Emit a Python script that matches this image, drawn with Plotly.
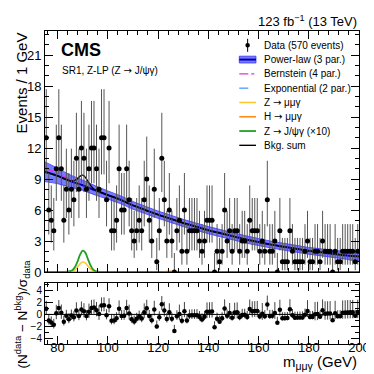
import plotly.graph_objects as go

# ---------------- data ----------------
BIN_LOW, BIN_WIDTH = 75.0, 1.0
DATA = [13, 6, 5, 4, 10, 13, 10, 5, 8, 6,
        8, 7, 11, 8, 12, 11, 8, 10, 12, 12,
        10, 8, 13, 13, 7, 12, 4, 4, 5, 10,
        6, 6, 10, 7, 4, 3, 4, 5, 4, 7,
        9, 5, 3, 8, 1, 4, 11, 7, 3, 6,
        3, 0, 4, 5, 2, 6, 2, 4, 4, 4,
        4, 3, 2, 3, 5, 5, 5, 0, 2, 1,
        2, 6, 3, 4, 2, 4, 4, 2, 3, 3,
        2, 5, 4, 4, 4, 2, 3, 2, 7, 2,
        2, 3, 0, 4, 1, 1, 1, 4, 2, 1,
        1, 1, 1, 2, 3, 1, 1, 2, 2, 1,
        3, 2, 2, 2, 0, 2, 1, 1, 2, 2,
        2, 2, 2, 1, 2]

PULL = [0.94, -1.0, -1.33, -1.72, 0.21, 1.05, 0.27, -1.2, -0.24, -0.8,
        -0.19, -0.47, 0.66, -0.25, 0.81, 0.51, -0.28, 0.42, 1.07, 1.14,
        0.69, 0.08, 1.49, 1.52, -0.13, 1.34, -1.05, -1.02, -0.63, 0.95,
        -0.27, -0.23, 1.05, 0.15, -0.79, -1.17, -0.73, -0.36, -0.68, 0.37,
        1.03, -0.26, -0.95, 0.83, -2.0, -0.48, 1.7, 0.64, -0.78, 0.34,
        -0.72, -2.73, -0.3, 0.06, -1.06, 0.54, -1.0, -0.18, -0.16, -0.14,
        -0.12, -0.45, -0.84, -0.4, 0.42, 0.45, 0.48, -2.12, -0.7, -1.21,
        -0.65, 0.98, -0.21, 0.24, -0.56, 0.3, 0.34, -0.49, -0.08, -0.06,
        -0.42, 0.9, 0.52, 0.55, 0.58, -0.33, 0.1, -0.3, 1.66, -0.26,
        -0.24, 0.25, -1.39, 0.78, -0.64, -0.62, -0.6, 0.86, -0.12, -0.55,
        -0.53, -0.52, -0.5, -0.04, 0.57, -0.45, -0.43, 0.02, 0.05, -0.4,
        0.69, 0.12, 0.14, 0.16, -0.96, 0.21, -0.3, -0.29, 0.28, 0.3,
        0.33, 0.34, 0.36, -0.23, 0.39]

# Poisson (Garwood 68%) interval table
ERR_LO = {0: 0.0, 1: 0.827, 2: 1.291, 3: 1.633, 4: 1.914, 5: 2.159, 6: 2.379,
          7: 2.582, 8: 2.770, 9: 2.945, 10: 3.108, 11: 3.265, 12: 3.413, 13: 3.555}
ERR_HI = {0: 1.841, 1: 2.300, 2: 2.638, 3: 2.918, 4: 3.163, 5: 3.382, 6: 3.583,
          7: 3.770, 8: 3.944, 9: 4.110, 10: 4.266, 11: 4.416, 12: 4.559, 13: 4.697}

CURVE_X = [75, 80, 85, 90, 95, 100, 105, 110, 115, 120, 125, 130, 135,
           140, 145, 150, 155, 160, 165, 170, 175, 180, 185, 190, 195, 200]
POWERLAW = [9.7, 9.3, 8.8, 8.4, 7.9, 7.45, 7.0, 6.45, 6.0, 5.55, 5.15, 4.75, 4.4,
            4.05, 3.75, 3.45, 3.15, 2.9, 2.65, 2.45, 2.25, 2.05, 1.9, 1.75, 1.6, 1.5]
BAND_HI = [10.65, 10.05, 9.4, 8.9, 8.35, 7.85, 7.38, 6.82, 6.36, 5.9, 5.5, 5.1, 4.75,
           4.4, 4.1, 3.8, 3.5, 3.24, 2.98, 2.78, 2.58, 2.38, 2.24, 2.1, 1.97, 1.89]
BAND_LO = [8.75, 8.55, 8.2, 7.9, 7.45, 7.05, 6.62, 6.08, 5.64, 5.2, 4.8, 4.4, 4.05,
           3.7, 3.4, 3.1, 2.8, 2.56, 2.32, 2.12, 1.92, 1.72, 1.56, 1.4, 1.23, 1.11]
BERNSTEIN = [10.1, 9.55, 8.95, 8.45, 7.95, 7.45, 6.98, 6.45, 6.0, 5.55, 5.15, 4.75, 4.4,
             4.05, 3.75, 3.45, 3.15, 2.9, 2.65, 2.45, 2.25, 2.07, 1.92, 1.78, 1.65, 1.55]
EXPONENTIAL = [9.5, 9.15, 8.75, 8.35, 7.9, 7.45, 7.0, 6.5, 6.05, 5.6, 5.2, 4.8, 4.42,
               4.07, 3.75, 3.45, 3.15, 2.9, 2.65, 2.43, 2.22, 2.03, 1.87, 1.72, 1.58, 1.46]

BKGSUM_X = [75, 80, 83, 84, 85, 86, 87, 88, 89, 90, 91, 92, 93, 94, 95, 96, 97, 98,
            100, 105, 110, 115, 120, 125, 130, 135, 140, 145, 150, 155, 160, 165,
            170, 175, 180, 185, 190, 195, 200]
BKGSUM = [9.7, 9.3, 9.0, 8.92, 8.84, 8.81, 8.88, 9.05, 9.28, 9.37, 9.19, 8.81, 8.43,
          8.13, 7.94, 7.83, 7.72, 7.63,
          7.45, 7.0, 6.45, 6.0, 5.55, 5.15, 4.75, 4.4, 4.05, 3.75, 3.45, 3.15, 2.9, 2.65,
          2.45, 2.25, 2.05, 1.9, 1.75, 1.6, 1.5]

SIG_X = [75, 83, 84, 85, 86, 87, 88, 89, 90, 91, 92, 93, 94, 95, 96, 97, 98, 100, 200]
ZJPSI_X10 = [0, 0.01, 0.03, 0.08, 0.19, 0.5, 1.05, 1.7, 2.06, 1.9, 1.3, 0.7, 0.28,
             0.09, 0.03, 0.01, 0, 0, 0]
ZMMG = [0, 0.005, 0.015, 0.04, 0.09, 0.24, 0.49, 0.8, 0.97, 0.89, 0.61, 0.33, 0.13,
        0.04, 0.015, 0.005, 0, 0, 0]
HIGGS_X = [75, 120, 122, 123, 124, 125, 126, 127, 128, 130, 200]
HMMG = [0, 0, 0.01, 0.03, 0.05, 0.06, 0.05, 0.03, 0.01, 0, 0]

ARROW = "<span style=\"font-family:'DejaVu Sans'\">→</span>"
LEGEND_LABELS = ["Data (570 events)", "Power-law (3 par.)", "Bernstein (4 par.)",
                 "Exponential (2 par.)", f"Z {ARROW} μμγ", f"H {ARROW} μμγ",
                 f"Z {ARROW} J/ψγ (×10)", "Bkg. sum"]

# ---------------- styling / layout helpers ----------------
FONT = "Liberation Sans, Arial, DejaVu Sans, sans-serif"
C_BAND = "rgba(70,70,255,0.72)"
C_PL = "#0000b0"
C_BERN = "#dd33dd"
C_EXP = "#55a0ff"
C_ZMMG = "#ffc833"
C_HMMG = "#ff8c1a"
C_ZJ = "#22a022"

W, H = 374, 374
ML, MR, MT, MB = 37, 17, 23, 38
PW, PH = W - ML - MR, H - MT - MB


def px(x):
    return (x - ML) / PW


def py(y):
    return (H - MB - y) / PH


centers = [BIN_LOW + BIN_WIDTH * (i + 0.5) for i in range(len(DATA))]
err_hi = [ERR_HI[n] for n in DATA]
err_lo = [ERR_LO[n] for n in DATA]
pull_plus = [1.0 if p < 0 else ERR_HI[n] / ERR_LO[n] for n, p in zip(DATA, PULL)]
pull_minus = [ERR_LO[n] / ERR_HI[n] if p < 0 else 1.0 for n, p in zip(DATA, PULL)]

fig = go.Figure()

# uncertainty band of power-law
fig.add_trace(go.Scatter(
    x=CURVE_X + CURVE_X[::-1], y=BAND_HI + BAND_LO[::-1],
    fill="toself", fillcolor=C_BAND, mode="lines",
    line=dict(color="#3535ff", width=0.8, shape="spline"),
    hoverinfo="skip", xaxis="x", yaxis="y"))
fig.add_trace(go.Scatter(x=CURVE_X, y=EXPONENTIAL, mode="lines",
                         line=dict(color=C_EXP, width=1.4, dash="dash", shape="spline"),
                         xaxis="x", yaxis="y"))
fig.add_trace(go.Scatter(x=CURVE_X, y=BERNSTEIN, mode="lines",
                         line=dict(color=C_BERN, width=1.4, dash="dashdot", shape="spline"),
                         xaxis="x", yaxis="y"))
fig.add_trace(go.Scatter(x=CURVE_X, y=POWERLAW, mode="lines",
                         line=dict(color=C_PL, width=2, shape="spline"),
                         xaxis="x", yaxis="y"))
fig.add_trace(go.Scatter(x=BKGSUM_X, y=BKGSUM, mode="lines",
                         line=dict(color="black", width=1.3, shape="spline"),
                         xaxis="x", yaxis="y"))
fig.add_trace(go.Scatter(x=SIG_X, y=ZMMG, mode="lines",
                         line=dict(color=C_ZMMG, width=1.6, shape="spline"),
                         xaxis="x", yaxis="y"))
fig.add_trace(go.Scatter(x=HIGGS_X, y=HMMG, mode="lines",
                         line=dict(color=C_HMMG, width=1.6, shape="spline"),
                         xaxis="x", yaxis="y"))
fig.add_trace(go.Scatter(x=SIG_X, y=ZJPSI_X10, mode="lines",
                         line=dict(color=C_ZJ, width=1.8, shape="spline"),
                         xaxis="x", yaxis="y"))
# data
fig.add_trace(go.Scatter(
    x=centers, y=DATA, mode="markers",
    marker=dict(color="black", size=5),
    error_y=dict(type="data", symmetric=False, array=err_hi, arrayminus=err_lo,
                 width=0, thickness=1, color="#555555"),
    xaxis="x", yaxis="y"))
# pulls
fig.add_trace(go.Scatter(
    x=centers, y=PULL, mode="markers",
    marker=dict(color="black", size=4.5),
    error_y=dict(type="data", symmetric=False, array=pull_plus, arrayminus=pull_minus,
                 width=0, thickness=1, color="#444444"),
    xaxis="x2", yaxis="y2"))

tickfont = dict(family=FONT, size=13, color="black")
axis_common = dict(showline=True, linecolor="black", linewidth=1, mirror="allticks",
                   ticks="inside", ticklen=8, tickcolor="black", tickwidth=1,
                   showgrid=False, zeroline=False)

fig.update_layout(
    width=W, height=H, margin=dict(l=ML, r=MR, t=MT, b=MB),
    paper_bgcolor="white", plot_bgcolor="white", showlegend=False,
    xaxis=dict(range=[75, 200], dtick=20, tick0=0, showticklabels=False,
               anchor="y", domain=[0, 1],
               minor=dict(ticks="inside", ticklen=4, dtick=4, tickcolor="black"),
               **axis_common),
    yaxis=dict(range=[0, 23.33], tickvals=[0, 3, 6, 9, 12, 15, 18, 21],
               domain=[py(264), 1], anchor="x", tickfont=tickfont,
               minor=dict(ticks="inside", ticklen=4, dtick=1, tickcolor="black"),
               **axis_common),
    xaxis2=dict(range=[75, 200], dtick=20, tick0=0, anchor="y2", domain=[0, 1],
                tickfont=tickfont, matches="x", ticklabelstandoff=-9,
                minor=dict(ticks="inside", ticklen=4, dtick=4, tickcolor="black"),
                **axis_common),
    yaxis2=dict(range=[-4.9, 5.2], tickvals=[-4, -2, 0, 2, 4], domain=[0, py(275)],
                anchor="x2", tickfont=dict(family=FONT, size=10, color="black"),
                minor=dict(ticks="inside", ticklen=4, dtick=1, tickcolor="black"),
                **axis_common),
)

shapes = [dict(type="line", xref="x2", yref="y2", x0=75, x1=200, y0=0, y1=0,
               line=dict(color="black", width=1))]

# manual legend
rows = [37.3 + 14.29 * k for k in range(len(LEGEND_LABELS))]
gx0, gx1, gxm = 235, 252, 243.5
# data glyph
shapes.append(dict(type="line", xref="paper", yref="paper", x0=px(gxm), x1=px(gxm),
                   y0=py(rows[0] - 6.5), y1=py(rows[0] + 6.5),
                   line=dict(color="black", width=1)))
shapes.append(dict(type="circle", xref="paper", yref="paper",
                   x0=px(gxm - 2.3), x1=px(gxm + 2.3), y0=py(rows[0] + 2.3), y1=py(rows[0] - 2.3),
                   fillcolor="black", line=dict(color="black", width=0)))
# power-law glyph
shapes.append(dict(type="rect", xref="paper", yref="paper", x0=px(gx0), x1=px(gx1),
                   y0=py(rows[1] + 3.4), y1=py(rows[1] - 3.4),
                   fillcolor=C_BAND, line=dict(color="#3535ff", width=0.8)))
line_styles = [(C_PL, "solid", 2), (C_BERN, "dashdot", 1.4), (C_EXP, "dash", 1.4),
               (C_ZMMG, "solid", 1.6), (C_HMMG, "solid", 1.6), (C_ZJ, "solid", 1.8),
               ("black", "solid", 1.4)]
for k, (col, dash, wd) in enumerate(line_styles, start=1):
    shapes.append(dict(type="line", xref="paper", yref="paper", x0=px(gx0), x1=px(gx1),
                       y0=py(rows[k]), y1=py(rows[k]),
                       line=dict(color=col, width=wd, dash=dash)))

annotations = []
for lab, r in zip(LEGEND_LABELS, rows):
    annotations.append(dict(text=lab, xref="paper", yref="paper", x=px(258), y=py(r),
                            xanchor="left", yanchor="middle", showarrow=False,
                            font=dict(family=FONT, size=10, color="black")))

annotations += [
    dict(text="<b>CMS</b>", xref="paper", yref="paper", x=px(51.5), y=py(42),
         xanchor="left", yanchor="middle", showarrow=False,
         font=dict(family=FONT, size=18, color="black")),
    dict(text=f"SR1, Z-LP (Z {ARROW} J/ψγ)", xref="paper", yref="paper", x=px(52), y=py(62.5),
         xanchor="left", yanchor="middle", showarrow=False,
         font=dict(family=FONT, size=10, color="black")),
    dict(text="123 fb<sup>−1</sup> (13 TeV)", xref="paper", yref="paper", x=px(357), y=py(13),
         xanchor="right", yanchor="middle", showarrow=False,
         font=dict(family=FONT, size=13, color="black")),
    dict(text="Events / 1 GeV", xref="paper", yref="paper", x=px(13), y=py(75),
         xanchor="center", yanchor="middle", textangle=-90, showarrow=False,
         font=dict(family=FONT, size=15, color="black")),
    dict(text="(N<sup>data</sup> − N<sup>bkg</sup>)/σ<sub>data</sub>", xref="paper", yref="paper",
         x=px(14), y=py(306), xanchor="center", yanchor="middle", textangle=-90,
         showarrow=False, font=dict(family=FONT, size=13.5, color="black")),
    dict(text="m<sub>μμγ</sub> (GeV)", xref="paper", yref="paper", x=px(357), y=py(354),
         xanchor="right", yanchor="middle", showarrow=False,
         font=dict(family=FONT, size=15, color="black")),
]

fig.update_layout(shapes=shapes, annotations=annotations)
fig.write_html("out.html")
